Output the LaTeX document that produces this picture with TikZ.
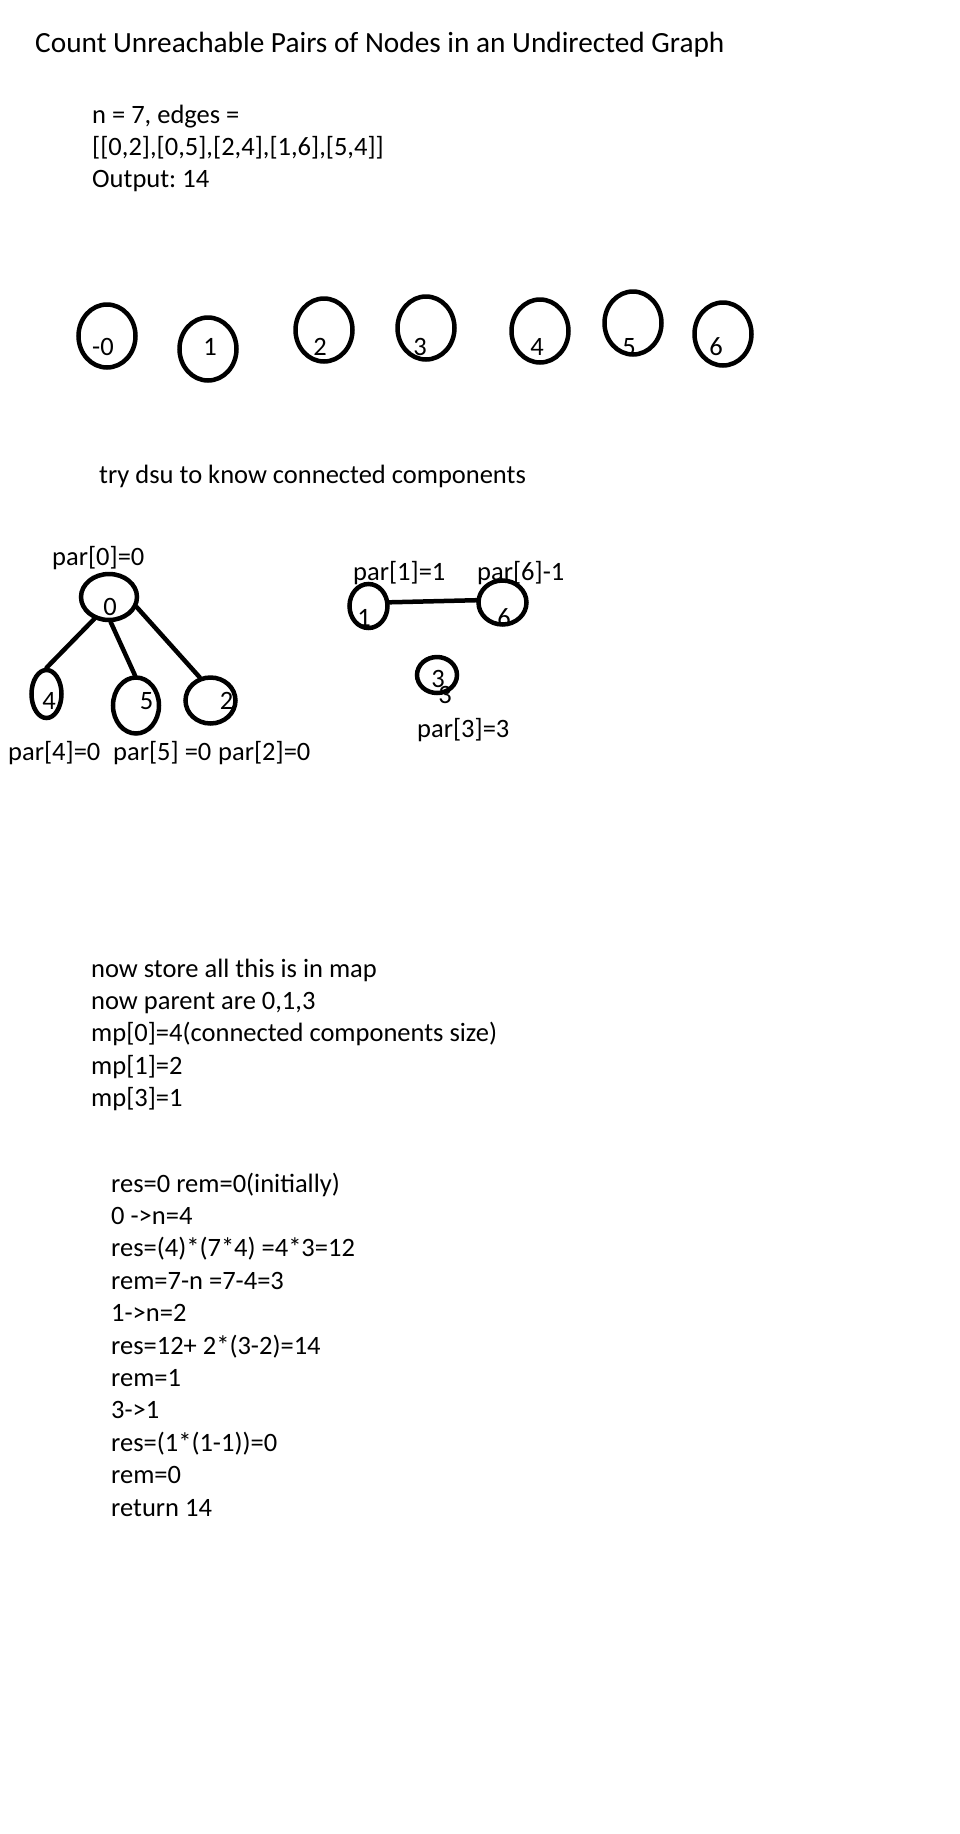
\documentclass[tikz,border=0pt]{standalone}
\usepackage{fontspec}
\setmainfont{Carlito}
\frenchspacing
\usetikzlibrary{shapes.geometric}

\begin{document}
\begin{tikzpicture}[x=1pt,y=-1pt,
    vertex/.style={draw,ellipse,line width=4.5pt,inner sep=0pt},
    edge/.style={line width=4.5pt,line cap=round},
    txt/.style={inner sep=0pt,anchor=base west,font=\fontsize{26.5}{32.4}\selectfont},
    num/.style={inner sep=0pt,anchor=base,font=\fontsize{26.5}{32.4}\selectfont}]
    \useasboundingbox (0,0) rectangle (960,1834);

    \node[txt,font=\fontsize{29.3}{35}\selectfont] (title) at (35,52) {Count Unreachable Pairs of Nodes in an Undirected Graph};

    \foreach \s [count=\i from 0] in {n = 7{,} edges =, {[[0,2],[0,5],[2,4],[1,6],[5,4]]}, Output: 14}
        \node[txt] (in\i) at (92,{123+32.4*\i}) {\s};

    \foreach \v/\x/\y in {0/107/336, 1/208/349, 2/324/330, 3/426/328, 4/540/331, 5/633/323, 6/723/334}
        \node[vertex,minimum width=57pt,minimum height=63pt] (c\v) at (\x,\y) {};
    \foreach \v/\t/\x in {0/-0/103, 1/1/210, 2/2/320, 3/3/420, 4/4/537, 5/5/629, 6/6/716}
        \node[num] (l\v) at (\x,355) {\t};

    \node[txt] (dsu) at (99,483) {try dsu to know connected components};

    \node[vertex,minimum width=56pt,minimum height=46pt] (n0) at (109,597) {};
    \node[vertex,minimum width=30pt,minimum height=48pt] (n4) at (46.5,694) {};
    \node[vertex,minimum width=46pt,minimum height=56pt] (n5) at (136,705.5) {};
    \node[vertex,minimum width=50pt,minimum height=46pt] (n2) at (210.5,700.5) {};
    \node[vertex,minimum width=38pt,minimum height=44pt] (n1) at (368.5,606) {};
    \node[vertex,minimum width=48pt,minimum height=44pt] (n6) at (502.5,602.5) {};
    \node[vertex,minimum width=40pt,minimum height=36pt] (n3) at (437,675) {};

    \draw[edge] (n0.236) -- (n4.north);
    \draw[edge] (n0.274) -- (n5.92);
    \draw[edge] (n0.340) -- (n2.115);
    \draw[edge] (n1.10) -- (n6.175);

    \node[num] (t0) at (110,615) {0};
    \node[num] (t4) at (49,709) {4};
    \node[num] (t5) at (146.5,709) {5};
    \node[num] (t2) at (226.5,709) {2};
    \node[num] (t1) at (364,626) {1};
    \node[num] (t6) at (504,626) {6};
    \node[num] (t3) at (438,687) {3};
    \node[num] (t3b) at (445,703) {3};

    \node[txt] (p0) at (52,565) {par[0]=0};
    \node[txt] (p1) at (353,580) {par[1]=1};
    \node[txt] (p6) at (477,580) {par[6]-1};
    \node[txt] (p3) at (417,737) {par[3]=3};
    \node[txt] (p4) at (8,760) {par[4]=0};
    \node[txt] (p5) at (113,760) {par[5] =0};
    \node[txt] (p2) at (218,760) {par[2]=0};

    \foreach \s [count=\i from 0] in {now store all this is in map, {now parent are 0,1,3}, mp[0]=4(connected components size), mp[1]=2, mp[3]=1}
        \node[txt] (mp\i) at (91,{977+32.4*\i}) {\s};

    \foreach \s [count=\i from 0] in {res=0 rem=0(initially), 0 ->n=4, res=(4)*(7*4) =4*3=12, rem=7-n =7-4=3, 1->n=2, res=12+ 2*(3-2)=14, rem=1, 3->1, res=(1*(1-1))=0, rem=0, return 14}
        \node[txt] (st\i) at (111,{1192+32.4*\i}) {\s};
\end{tikzpicture}
\end{document}
